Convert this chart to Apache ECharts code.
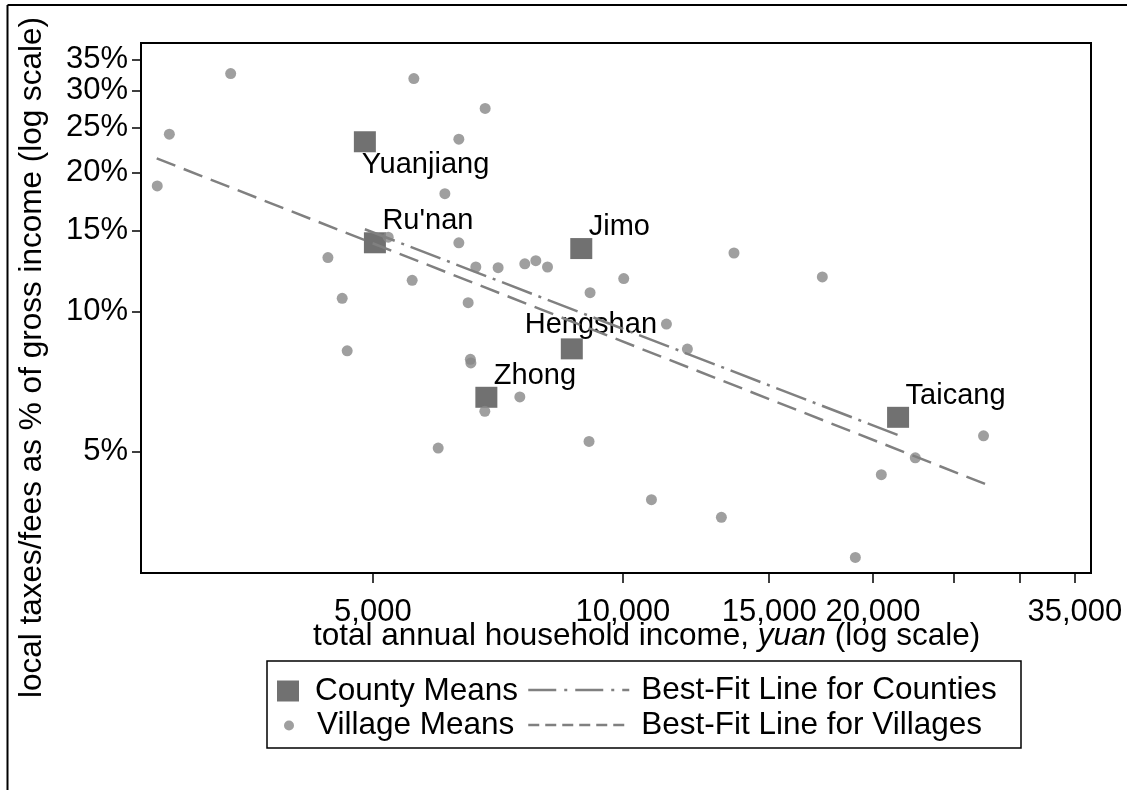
<!DOCTYPE html>
<html><head><meta charset="utf-8">
<script src="https://cdn.jsdelivr.net/npm/echarts@6/dist/echarts.min.js"></script>
<style>html,body{margin:0;padding:0;background:#fff}#c{width:1127px;height:790px}</style>
</head><body><div id="c"></div>
<script>
// ---- data ----
const countyNames = ['Yuanjiang', "Ru'nan", 'Jimo', 'Hengshan', 'Zhong', 'Taicang'];
const countyIncome = [4890, 5028, 8909, 8678, 6848, 21440];
const countyTax = [23.3, 14.1, 13.7, 8.32, 6.54, 5.92];

const villageIncome = [3371, 5601, 6825, 2844, 6345, 2750, 6104, 5217, 6345, 4414, 6651, 7075, 7618, 7854, 8113, 13604, 5575, 10022, 4592, 9129, 6511, 17379, 11281, 4656, 11956, 6551, 6560, 7514, 6819, 9103, 5992, 10822, 13137, 27170, 22487, 20467, 19045];
const villageTax = [32.7, 31.9, 27.5, 24.2, 23.6, 18.7, 18.0, 14.5, 14.1, 13.1, 12.5, 12.46, 12.7, 12.9, 12.5, 13.4, 11.7, 11.8, 10.7, 11.0, 10.47, 11.9, 9.41, 8.24, 8.31, 7.90, 7.76, 6.55, 6.10, 5.25, 5.08, 3.93, 3.60, 5.40, 4.84, 4.45, 2.95];

const countyFitIncome = [4890, 21489];
const countyFitTax = [15.08, 5.41];
const villageFitIncome = [2746, 27298];
const villageFitTax = [21.45, 4.25];

const xTickValues = [5000, 10000, 15000, 20000, 25000, 30000, 35000];
const xLabelValues = [5000, 10000, 15000, 20000, 35000];
const yTickValues = [5, 10, 15, 20, 25, 30, 35];
const yLabelValues = [5, 10, 15, 20, 25, 30, 35];

// ---- styles ----
const FF = '"Liberation Sans", Arial, Helvetica, sans-serif';
const labelPlacement = { 'Yuanjiang': [8, 34], 'Hengshan': [-36, -13] };
const defaultPlacement = [18.5, -11];

const zip = (xs, ys) => xs.map((x, i) => [x, ys[i]]);
const fmtComma = v => String(Math.round(v)).replace(/\B(?=(\d{3})+(?!\d))/g, ',');

const countyData = countyNames.map((n, i) => ({
  name: n,
  value: [countyIncome[i], countyTax[i]],
  label: { position: labelPlacement[n] || defaultPlacement }
}));

const legendText = (padLeft) => ({ fontSize: 31.5, color: '#000', fontFamily: FF, padding: [0, 0, 0, padLeft] });

const chart = echarts.init(document.getElementById('c'), null, { renderer: 'canvas' });
chart.setOption({
  animation: false,
  backgroundColor: '#fff',
  textStyle: { fontFamily: FF },
  grid: {
    left: 141, right: 36, top: 43, bottom: 217,
    show: true, borderColor: '#000', borderWidth: 2, backgroundColor: '#fff',
    containLabel: false, outerBoundsMode: 'none'
  },
  xAxis: {
    type: 'log', logBase: 10, min: 2629, max: 36600,
    axisLine: { show: true, lineStyle: { color: '#000', width: 2 } },
    axisTick: { show: true, customValues: xTickValues, length: 10, lineStyle: { color: '#000', width: 1.5 } },
    axisLabel: { show: true, customValues: xLabelValues, formatter: fmtComma, fontSize: 31, color: '#000', fontFamily: FF, margin: 24 },
    splitLine: { show: false }, minorTick: { show: false }
  },
  yAxis: {
    type: 'log', logBase: 10, min: 2.73, max: 38.07,
    axisLine: { show: true, lineStyle: { color: '#000', width: 2 } },
    axisTick: { show: true, customValues: yTickValues, length: 9, lineStyle: { color: '#000', width: 1.5 } },
    axisLabel: { show: true, customValues: yLabelValues, formatter: v => Math.round(v) + '%', fontSize: 31, color: '#000', fontFamily: FF, margin: 13 },
    splitLine: { show: false }, minorTick: { show: false }
  },
  legend: [
    { data: ['County Means'], left: 277, top: 675, padding: 0, selectedMode: false,
      icon: 'rect', itemWidth: 22, itemHeight: 21, textStyle: legendText(11) },
    { data: ['Village Means'], left: 284, top: 709.5, padding: 0, selectedMode: false,
      icon: 'circle', itemWidth: 10, itemHeight: 10, textStyle: legendText(18) },
    { data: ['Best-Fit Line for Counties'], left: 527, top: 674, padding: 0, selectedMode: false,
      itemWidth: 101, itemHeight: 14, itemStyle: { opacity: 0 },
      lineStyle: { type: [28, 8, 3, 8], width: 2.5, color: '#808080' }, textStyle: legendText(7) },
    { data: ['Best-Fit Line for Villages'], left: 527, top: 709, padding: 0, selectedMode: false,
      itemWidth: 101, itemHeight: 14, itemStyle: { opacity: 0 },
      lineStyle: { type: [11, 6], width: 2.5, color: '#808080' }, textStyle: legendText(7) }
  ],
  graphic: [
    { type: 'line', shape: { x1: 7.5, y1: 5, x2: 1127, y2: 5 }, style: { stroke: '#000', lineWidth: 2 } },
    { type: 'line', shape: { x1: 7.5, y1: 5, x2: 7.5, y2: 790 }, style: { stroke: '#000', lineWidth: 2 } },
    { type: 'rect', shape: { x: 267, y: 661, width: 754, height: 87 }, style: { fill: 'none', stroke: '#000', lineWidth: 1.5 } },
    { type: 'text', x: 313, y: 636,
      style: { text: 'total annual household income, {i|yuan} (log scale)', fontSize: 31.5, fontFamily: FF, fill: '#000',
        textAlign: 'left', textVerticalAlign: 'middle',
        rich: { i: { fontStyle: 'italic', fontSize: 31.5, fontFamily: FF, fill: '#000' } } } },
    { type: 'text', x: 32, y: 357.5, rotation: Math.PI / 2,
      style: { text: 'local taxes/fees as % of gross income (log scale)', fontSize: 31.5, fontFamily: FF, fill: '#000',
        textAlign: 'center', textVerticalAlign: 'middle' } }
  ],
  series: [
    { name: 'County Means', type: 'scatter', symbol: 'rect', symbolSize: [22, 21],
      itemStyle: { color: '#4d4d4d' },
      label: { show: true, formatter: p => p.name, fontSize: 29, color: '#000', opacity: 1, textBorderWidth: 0,
        fontFamily: FF, align: 'left', verticalAlign: 'middle' },
      data: countyData, z: 2 },
    { name: 'Village Means', type: 'scatter', symbol: 'circle', symbolSize: 11,
      itemStyle: { color: '#878787' },
      data: zip(villageIncome, villageTax), z: 3 },
    { name: 'Best-Fit Line for Counties', type: 'line', symbol: 'none', itemStyle: { color: '#808080', opacity: 0 },
      lineStyle: { color: '#808080', width: 2.5, type: [32, 7, 3, 7] },
      data: zip(countyFitIncome, countyFitTax), z: 4 },
    { name: 'Best-Fit Line for Villages', type: 'line', symbol: 'none', itemStyle: { color: '#808080', opacity: 0 },
      lineStyle: { color: '#808080', width: 2.5, type: [20, 9] },
      data: zip(villageFitIncome, villageFitTax), z: 4 }
  ]
});
</script>
</body></html>
